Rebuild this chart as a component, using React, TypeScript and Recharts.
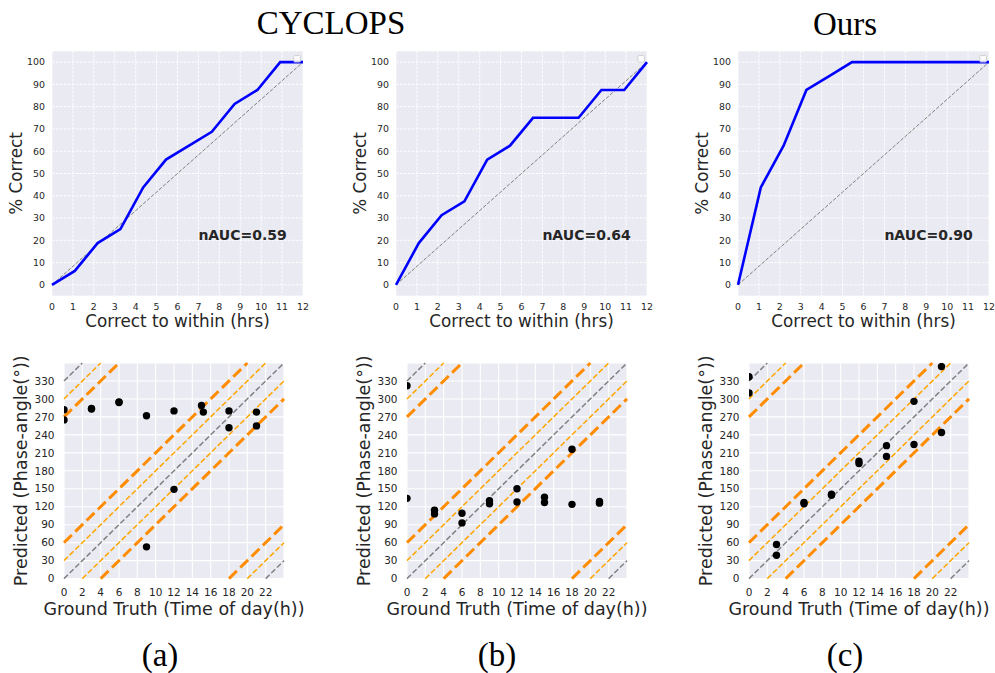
import React from 'react';
import {
  LineChart, Line, ScatterChart, Scatter, XAxis, YAxis, CartesianGrid,
  ReferenceLine, ReferenceDot, Label,
} from 'recharts';

// ---------- Data ----------
const withinHours = [0, 1.09, 2.18, 3.27, 4.36, 5.45, 6.55, 7.64, 8.73, 9.82, 10.91, 12];
const correctA = [0, 6.25, 18.75, 25, 43.75, 56.25, 62.5, 68.75, 81.25, 87.5, 100, 100];
const correctB = [0, 18.75, 31.25, 37.5, 56.25, 62.5, 75, 75, 75, 87.5, 87.5, 100];
const correctC = [0, 43.75, 62.5, 87.5, 93.75, 100, 100, 100, 100, 100, 100, 100];
const aucLabels = ['nAUC=0.59', 'nAUC=0.64', 'nAUC=0.90'];

const truthA = [0, 0, 3, 3, 6, 6, 9, 9, 12, 12, 15, 15.2, 18, 18, 21, 21];
const predA = [282, 265, 284, 283, 295, 294, 272, 53, 280, 149, 289, 278, 280, 252, 278, 255];
const truthB = [0, 0, 3, 3, 6, 6, 9, 9, 12, 12, 15, 15, 18, 18, 21, 21];
const predB = [322, 134, 114, 108, 109, 93, 130, 125, 150, 128, 136, 127, 216, 124, 129, 126];
const truthC = [0, 0, 3, 3, 6, 6, 9, 9, 12, 12, 15, 15, 18, 18, 21, 21];
const predC = [337, 310, 57, 39, 127, 125, 141, 139, 196, 192, 222, 204, 296, 224, 354, 244];

const hourTicksTop = [0, 1, 2, 3, 4, 5, 6, 7, 8, 9, 10, 11, 12];
const pctTicks = [0, 10, 20, 30, 40, 50, 60, 70, 80, 90, 100];
const hourTicksBottom = [0, 2, 4, 6, 8, 10, 12, 14, 16, 18, 20, 22];
const angleTicks = [0, 30, 60, 90, 120, 150, 180, 210, 240, 270, 300, 330];

const exactOffsets = [0, 330, -330];
const band2hOffsets = [30, -30, 300, -300];
const band4hOffsets = [60, -60, 270, -270];

const titles = ['CYCLOPS', 'Ours'];
const panelTags = ['(a)', '(b)', '(c)'];

// ---------- Styles ----------
const BG = '#EAEAF2';
const TXT = '#262626';
const SANS = 'DejaVu Sans';
const SERIF = 'Liberation Serif';

const slope = 360 / 24;
function segmentFor(c: number) {
  const x1 = Math.max(0, -c / slope);
  const x2 = Math.min(24, (360 - c) / slope);
  return [{ x: x1, y: slope * x1 + c }, { x: x2, y: slope * x2 + c }];
}

function RocPanel({ plotLeft, values, auc }: { plotLeft: number; values: number[]; auc: string }) {
  const yw = 50, xh = 45, plotW = 251, plotH = 245, plotTop = 50.5, rightPad = 10, topPad = 10;
  const W = yw + plotW + rightPad, H = plotH + xh + topPad;
  const data = withinHours.map((h, i) => ({ x: h, y: values[i] }));
  return (
    <div style={{ position: 'absolute', left: plotLeft - yw, top: plotTop - topPad, width: W, height: H }}>
      <LineChart width={W} height={H} data={data} margin={{ top: topPad, right: rightPad, bottom: 0, left: 0 }}>
        <CartesianGrid fill={BG} fillOpacity={1} stroke="#ffffff" strokeDasharray="2.8 1.2" strokeWidth={0.9} />
        <XAxis
          type="number" dataKey="x" domain={[0, 12]} ticks={hourTicksTop} interval={0}
          axisLine={false} tickLine={false} tickSize={0} tickMargin={7} height={xh}
          tick={{ fontSize: 9.4, fill: TXT, fontFamily: SANS }}
        >
          <Label
            content={(p: any) => {
              const vb = p.viewBox || {};
              return (
                <text x={vb.x + vb.width / 2} y={vb.y + 31} textAnchor="middle" fontSize={16.8} fill={TXT} fontFamily={SANS}>
                  Correct to within (hrs)
                </text>
              );
            }}
          />
        </XAxis>
        <YAxis
          type="number" domain={[-5, 105]} ticks={pctTicks} interval={0}
          axisLine={false} tickLine={false} tickSize={0} tickMargin={7} width={yw}
          tick={{ fontSize: 9.4, fill: TXT, fontFamily: SANS }}
        >
          <Label
            content={(p: any) => {
              const vb = p.viewBox || {};
              const cx = vb.x + vb.width - 36;
              const cy = vb.y + vb.height / 2;
              return (
                <text x={cx} y={cy} transform={`rotate(-90 ${cx} ${cy})`} textAnchor="middle" dominantBaseline="central" fontSize={16.8} fill={TXT} fontFamily={SANS}>
                  % Correct
                </text>
              );
            }}
          />
        </YAxis>
        <ReferenceLine segment={[{ x: 0, y: 0 }, { x: 12, y: 100 }]} stroke="#808080" strokeWidth={1} strokeDasharray="3.7 1.6" />
        <Line type="linear" dataKey="y" stroke="#0000FF" strokeWidth={2.6} dot={false} isAnimationActive={false} />
        <ReferenceDot
          x={7} y={20} r={0}
          shape={(p: any) => (
            <text x={p.cx} y={p.cy} fontSize={14} fontWeight="bold" fill={TXT} fontFamily={SANS}>{auc}</text>
          )}
        />
        <ReferenceDot
          x={11.72} y={101.5} r={0}
          shape={(p: any) => (
            <rect x={p.cx - 3.3} y={p.cy - 3.3} width={6.6} height={6.6} rx={1} fill="#ffffff" fillOpacity={0.8} stroke="#cccccc" strokeWidth={0.8} />
          )}
        />
      </LineChart>
    </div>
  );
}

function PhasePanel({ plotLeft, truth, pred }: { plotLeft: number; truth: number[]; pred: number[] }) {
  const yw = 60, xh = 50, plotW = 220, plotH = 215.6, plotTop = 362.7, rightPad = 32, topPad = 16;
  const W = yw + plotW + rightPad, H = plotH + xh + topPad;
  const data = truth.map((t, i) => ({ x: t, y: pred[i] }));
  return (
    <div style={{ position: 'absolute', left: plotLeft - yw, top: plotTop - topPad, width: W, height: H }}>
      <ScatterChart width={W} height={H} margin={{ top: topPad, right: rightPad, bottom: 0, left: 0 }}>
        <CartesianGrid fill={BG} fillOpacity={1} stroke="#ffffff" strokeWidth={1.1} />
        <XAxis
          type="number" dataKey="x" domain={[0, 24]} ticks={hourTicksBottom} interval={0} allowDataOverflow
          axisLine={false} tickLine={false} tickSize={0} tickMargin={10} height={xh}
          tick={{ fontSize: 10.5, fill: TXT, fontFamily: SANS }}
        >
          <Label
            content={(p: any) => {
              const vb = p.viewBox || {};
              return (
                <text x={vb.x + vb.width / 2} y={vb.y + 36.7} textAnchor="middle" fontSize={17.5} fill={TXT} fontFamily={SANS}>
                  Ground Truth (Time of day(h))
                </text>
              );
            }}
          />
        </XAxis>
        <YAxis
          type="number" dataKey="y" domain={[0, 360]} ticks={angleTicks} interval={0} allowDataOverflow
          axisLine={false} tickLine={false} tickSize={0} tickMargin={9.5} width={yw}
          tick={{ fontSize: 10.5, fill: TXT, fontFamily: SANS }}
        >
          <Label
            content={(p: any) => {
              const vb = p.viewBox || {};
              const cx = vb.x + vb.width - 43;
              const cy = vb.y + vb.height / 2;
              return (
                <text x={cx} y={cy} transform={`rotate(-90 ${cx} ${cy})`} textAnchor="middle" dominantBaseline="central" fontSize={17.5} fill={TXT} fontFamily={SANS}>
                  Predicted (Phase-angle(°))
                </text>
              );
            }}
          />
        </YAxis>
        {exactOffsets.map((c) => (
          <ReferenceLine key={`g${c}`} segment={segmentFor(c)} stroke="#808080" strokeWidth={1.5} strokeDasharray="5.5 2.4" ifOverflow="visible" />
        ))}
        {band2hOffsets.map((c) => (
          <ReferenceLine key={`o${c}`} segment={segmentFor(c)} stroke="#FFA500" strokeWidth={1.5} strokeDasharray="5.5 2.4" ifOverflow="visible" />
        ))}
        {band4hOffsets.map((c) => (
          <ReferenceLine key={`d${c}`} segment={segmentFor(c)} stroke="#FF8C00" strokeWidth={3} strokeDasharray="11 4.8" ifOverflow="visible" />
        ))}
        <Scatter
          data={data} fill="#000000" isAnimationActive={false}
          shape={(p: any) => <circle cx={p.cx} cy={p.cy} r={3.7} fill="#000000" />}
        />
      </ScatterChart>
    </div>
  );
}

export default function App() {
  return (
    <div style={{ position: 'absolute', left: 0, top: 0, width: 995, height: 673, background: '#ffffff', overflow: 'hidden' }}>
      <RocPanel plotLeft={52.3} values={correctA} auc={aucLabels[0]} />
      <RocPanel plotLeft={395.7} values={correctB} auc={aucLabels[1]} />
      <RocPanel plotLeft={738} values={correctC} auc={aucLabels[2]} />
      <PhasePanel plotLeft={64} truth={truthA} pred={predA} />
      <PhasePanel plotLeft={406.7} truth={truthB} pred={predB} />
      <PhasePanel plotLeft={749.3} truth={truthC} pred={predC} />
      <svg width={995} height={673} style={{ position: 'absolute', left: 0, top: 0, pointerEvents: 'none' }}>
        <text x={331} y={34} textAnchor="middle" fontSize={33} fill="#000" fontFamily={SERIF}>{titles[0]}</text>
        <text x={845} y={35} textAnchor="middle" fontSize={33} fill="#000" fontFamily={SERIF}>{titles[1]}</text>
        <text x={160} y={666} textAnchor="middle" fontSize={33} fill="#000" fontFamily={SERIF}>{panelTags[0]}</text>
        <text x={497} y={666} textAnchor="middle" fontSize={33} fill="#000" fontFamily={SERIF}>{panelTags[1]}</text>
        <text x={845} y={666} textAnchor="middle" fontSize={33} fill="#000" fontFamily={SERIF}>{panelTags[2]}</text>
      </svg>
    </div>
  );
}
